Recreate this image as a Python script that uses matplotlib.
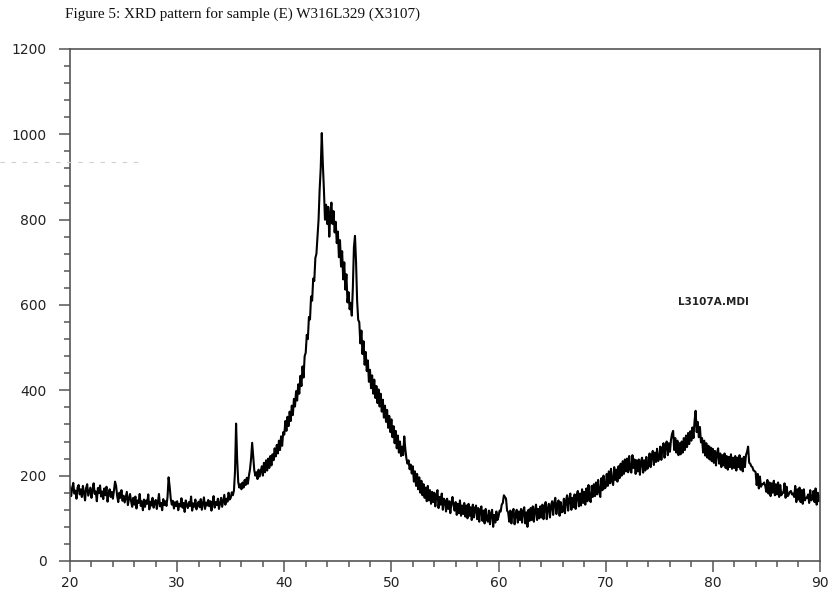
import numpy as np
import matplotlib
matplotlib.use("Agg")
import matplotlib.pyplot as plt
from matplotlib.ticker import MultipleLocator
from matplotlib.lines import Line2D

# ---- data: intensity, 2-theta from 20.0 to 90.0 step 0.1 ----
two_theta_start = 20.0
two_theta_step = 0.1
intensity = [
    174, 152, 170, 183, 158, 165, 146, 172, 178, 156,   # 20
    168, 150, 176, 160, 142, 171, 180, 153, 163, 172,   # 21
    148, 166, 182, 157, 163, 140, 171, 159, 177, 151,   # 22
    163, 145, 170, 154, 174, 139, 159, 168, 150, 162,   # 23
    146, 165, 186, 176, 152, 138, 160, 148, 166, 141,   # 24
    153, 137, 149, 162, 131, 146, 157, 140, 127, 148,   # 25
    132, 151, 123, 142, 136, 157, 129, 140, 119, 144,   # 26
    127, 142, 134, 156, 121, 139, 130, 148, 125, 137,   # 27
    143, 122, 138, 157, 128, 136, 119, 145, 131, 140,   # 28
    129, 150, 196, 174, 146, 132, 141, 123, 138, 129,   # 29
    140, 119, 134, 128, 147, 125, 136, 115, 142, 131,   # 30
    124, 138, 129, 151, 118, 135, 127, 144, 121, 133,   # 31
    139, 126, 145, 120, 134, 149, 122, 137, 130, 143,   # 32
    128, 140, 118, 136, 152, 125, 138, 131, 146, 122,   # 33
    135, 148, 127, 141, 155, 132, 146, 139, 160, 144,   # 34
    148, 161, 154, 165, 210, 322, 238, 185, 172, 180,   # 35
    168, 184, 172, 190, 178, 195, 181, 200, 215, 240,   # 36
    277, 245, 212, 200, 208, 192, 214, 198, 210, 222,   # 37
    200, 230, 208, 236, 212, 240, 218, 246, 224, 250,   # 38
    236, 264, 245, 272, 252, 282, 260, 292, 270, 302,   # 39
    296, 328, 305, 338, 316, 350, 328, 364, 342, 380,   # 40
    362, 398, 376, 414, 392, 434, 410, 456, 430, 480,   # 41
    488, 530, 520, 572, 566, 620, 610, 662, 656, 710,   # 42
    720, 760, 800, 870, 920, 1003, 930, 870, 800, 835,  # 43
    790, 830, 760, 815, 840, 790, 820, 770, 795, 745,   # 44
    772, 712, 752, 690, 726, 660, 700, 636, 672, 606,   # 45
    630, 590, 605, 575, 640, 735, 762, 700, 610, 565,   # 46
    560, 510, 540, 485, 515, 460, 490, 445, 470, 420,   # 47
    448, 405, 435, 392, 425, 382, 410, 370, 402, 362,   # 48
    392, 350, 378, 336, 364, 326, 354, 312, 340, 302,   # 49
    332, 290, 316, 276, 305, 264, 294, 254, 280, 246,   # 50
    268, 248, 292, 262, 240, 228, 236, 215, 226, 205,   # 51
    222, 186, 210, 176, 204, 168, 196, 160, 188, 154,   # 52
    180, 148, 172, 140, 176, 142, 166, 134, 162, 138,   # 53
    160, 128, 154, 166, 124, 150, 132, 158, 120, 146,   # 54
    142, 116, 146, 122, 140, 112, 136, 150, 130, 118,   # 55
    138, 108, 134, 112, 142, 106, 130, 110, 136, 104,   # 56
    130, 100, 134, 106, 126, 96, 132, 102, 124, 130,    # 57
    98, 124, 92, 120, 128, 94, 118, 88, 122, 98,        # 58
    92, 118, 86, 112, 120, 80, 108, 90, 116, 96,        # 59
    104, 118, 116, 132, 136, 154, 150, 146, 118, 114,   # 60
    92, 118, 88, 114, 122, 86, 110, 120, 90, 116,       # 61
    96, 122, 90, 118, 126, 88, 114, 80, 120, 94,        # 62
    124, 96, 128, 92, 120, 132, 96, 122, 100, 128,      # 63
    102, 132, 98, 126, 138, 98, 124, 134, 102, 130,     # 64
    140, 108, 136, 148, 110, 134, 142, 106, 138, 114,   # 65
    116, 146, 112, 142, 154, 118, 144, 158, 120, 148,   # 66
    126, 156, 122, 154, 164, 128, 158, 130, 168, 136,   # 67
    162, 132, 170, 140, 178, 146, 138, 176, 150, 180,   # 68
    152, 184, 156, 190, 162, 150, 194, 166, 200, 170,   # 69
    172, 204, 176, 210, 182, 216, 186, 178, 220, 190,   # 70
    214, 186, 222, 194, 228, 200, 234, 204, 238, 210,   # 71
    240, 208, 246, 214, 207, 248, 218, 238, 204, 236,   # 72
    210, 238, 202, 234, 242, 207, 236, 212, 244, 216,   # 73
    224, 252, 220, 246, 258, 225, 254, 232, 263, 234,   # 74
    240, 268, 237, 264, 276, 242, 270, 280, 248, 276,   # 75
    256, 284, 298, 305, 260, 288, 254, 282, 248, 276,   # 76
    250, 280, 254, 288, 260, 294, 267, 300, 274, 304,   # 77
    282, 313, 288, 328, 352, 302, 326, 290, 314, 278,   # 78
    288, 254, 282, 247, 276, 242, 270, 238, 266, 234,   # 79
    263, 230, 258, 224, 254, 264, 228, 252, 220, 248,   # 80
    224, 252, 218, 246, 214, 244, 220, 250, 216, 242,   # 81
    218, 246, 212, 242, 220, 248, 214, 240, 210, 244,   # 82
    220, 248, 256, 268, 230, 228, 222, 220, 212, 211,   # 83
    208, 178, 204, 170, 198, 174, 180, 180, 184, 176,   # 84
    162, 190, 158, 184, 152, 182, 160, 188, 154, 180,   # 85
    156, 184, 150, 178, 154, 160, 160, 182, 148, 174,   # 86
    152, 156, 162, 164, 156, 158, 150, 176, 138, 168,   # 87
    144, 172, 138, 166, 134, 168, 142, 148, 148, 156,   # 88
    136, 166, 142, 146, 164, 138, 170, 132, 160, 140,   # 89
    152,                                                # 90
]
two_theta = two_theta_start + two_theta_step * np.arange(len(intensity))

title_text = "Figure 5: XRD pattern for sample (E) W316L329 (X3107)"
file_label = "L3107A.MDI"
x_limits = (20, 90)
y_limits = (0, 1200)

# ---- figure ----
fig = plt.figure(figsize=(8.29, 5.91), dpi=100)
ax = fig.add_axes([0.0845, 0.0508, 0.9045, 0.8663])

ax.plot(two_theta, intensity, color="black", linewidth=1.5)

ax.set_xlim(*x_limits)
ax.set_ylim(*y_limits)
ax.xaxis.set_major_locator(MultipleLocator(10))
ax.xaxis.set_minor_locator(MultipleLocator(2))
ax.yaxis.set_major_locator(MultipleLocator(200))
ax.yaxis.set_minor_locator(MultipleLocator(40))

spine_color = "#555555"
for s in ax.spines.values():
    s.set_color(spine_color)
    s.set_linewidth(1.2)

ax.tick_params(which="both", direction="out", color=spine_color, width=1.1,
               labelsize=10, labelcolor="#222222")
ax.tick_params(which="major", length=8)
ax.tick_params(which="minor", length=4.5)
ax.tick_params(axis="y", which="major", pad=9)
ax.tick_params(axis="x", which="major", pad=3)
ax.tick_params(top=False, right=False)

ax.text(76.8, 607, file_label, fontsize=7.5, fontweight="semibold", color="#222222",
        ha="left", va="center")

fig.text(0.078, 0.976, title_text, family="Liberation Serif", fontsize=10.9,
         ha="left", va="center", color="#111111")

# faint scan artefact at left
fig.add_artist(Line2D([0.0, 0.17], [1 - 162 / 591, 1 - 162 / 591],
                      transform=fig.transFigure, color="#d0d0d0",
                      linewidth=0.8, linestyle=(0, (4, 6))))

fig.savefig("out.png", dpi=100)
